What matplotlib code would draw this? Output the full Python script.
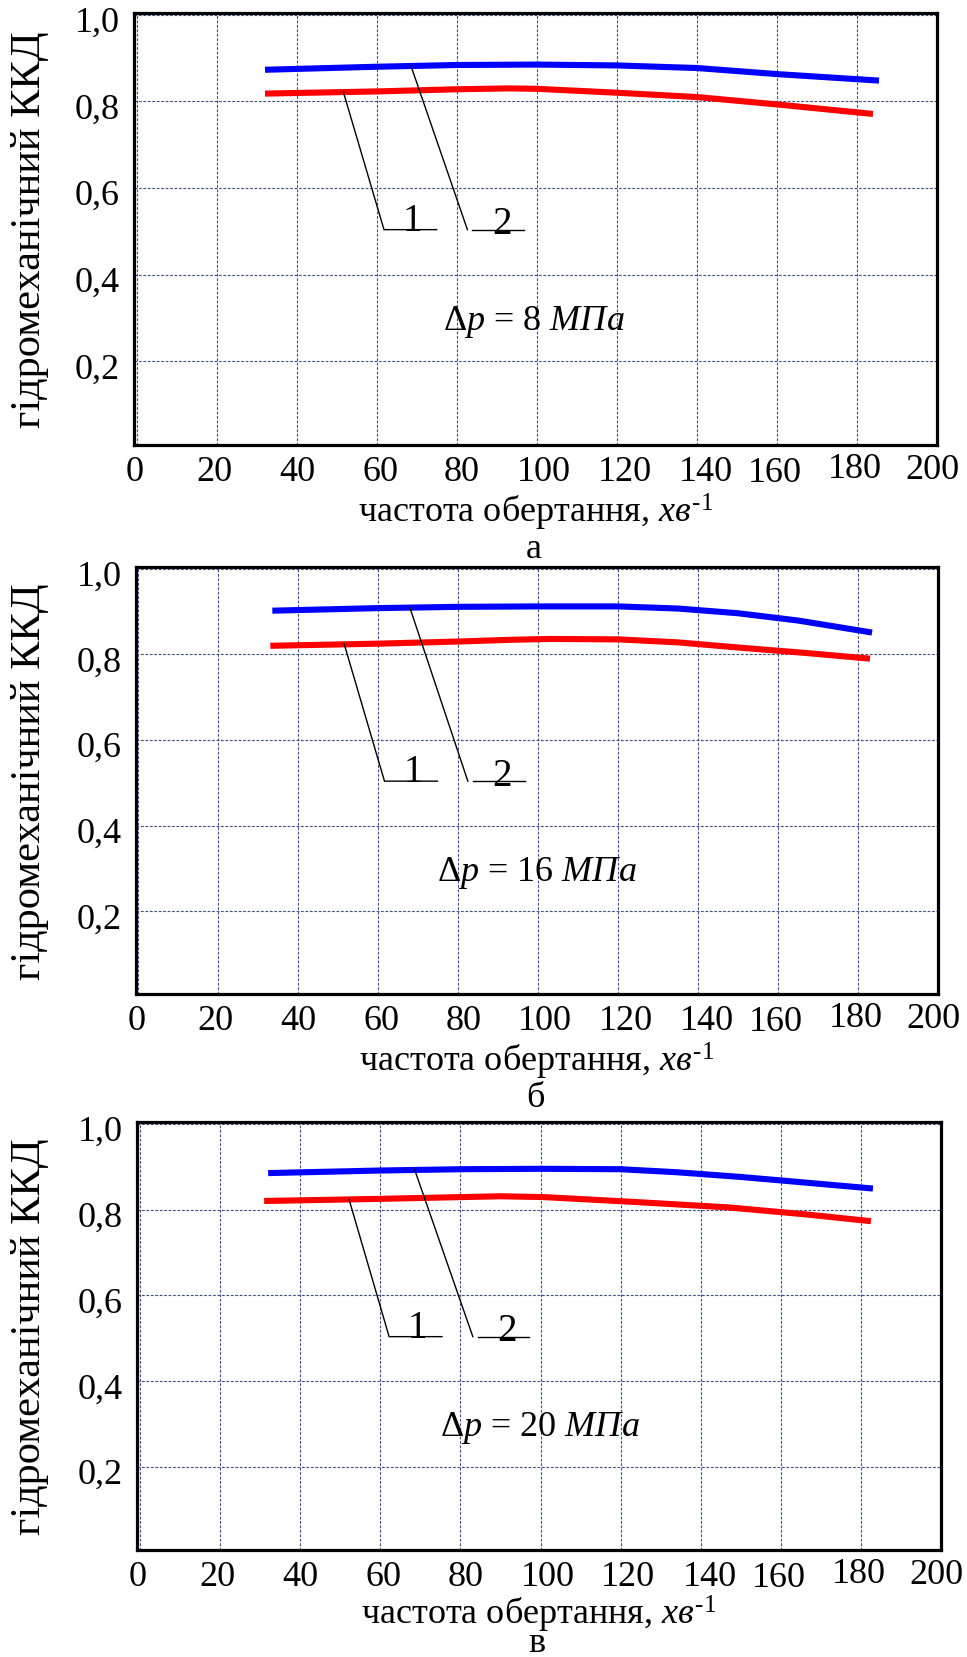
import matplotlib.pyplot as plt
import matplotlib.transforms as mtransforms
import numpy as np

plt.rcParams['font.family'] = ['Liberation Serif', 'DejaVu Serif']
plt.rcParams['mathtext.fontset'] = 'custom'
plt.rcParams['mathtext.rm'] = 'Liberation Serif'
plt.rcParams['mathtext.it'] = 'Liberation Serif:italic'

# а) Δp = 8 МПа: крива 2 (синя) і крива 1 (червона)
n_a_2 = [32, 60, 80, 100, 120, 140, 160, 185.5]
kkd_a_2 = [0.873, 0.880, 0.884, 0.885, 0.883, 0.877, 0.863, 0.848]
n_a_1 = [32, 60, 80, 93, 100, 120, 140, 160, 184]
kkd_a_1 = [0.818, 0.823, 0.828, 0.830, 0.829, 0.820, 0.810, 0.793, 0.771]

# б) Δp = 16 МПа
n_b_2 = [33.5, 60, 80, 100, 120, 135, 150, 165, 183.5]
kkd_b_2 = [0.902, 0.908, 0.911, 0.912, 0.912, 0.907, 0.896, 0.879, 0.851]
n_b_1 = [33, 60, 80, 93, 103, 120, 135, 150, 166, 183]
kkd_b_1 = [0.820, 0.825, 0.830, 0.834, 0.836, 0.835, 0.828, 0.816, 0.804, 0.790]

# в) Δp = 20 МПа
n_c_2 = [32, 60, 80, 100, 120, 134, 150, 166, 183]
kkd_c_2 = [0.885, 0.891, 0.894, 0.895, 0.894, 0.887, 0.876, 0.863, 0.849]
n_c_1 = [31, 60, 80, 90, 101, 123, 147, 166, 182.5]
kkd_c_1 = [0.820, 0.825, 0.829, 0.831, 0.829, 0.818, 0.805, 0.789, 0.773]

pressures = [8, 16, 20]
letters = ['а', 'б', 'в']

x_ticks = [0, 20, 40, 60, 80, 100, 120, 140, 160, 180, 200]
x_tick_labels = [str(v) for v in x_ticks]
y_ticks = [0.2, 0.4, 0.6, 0.8, 1.0]
y_tick_labels = ['0,2', '0,4', '0,6', '0,8', '1,0']

# розмітка в пікселях: (ліво, верх, право, низ) та ліва межа осі x
W, H = 967, 1658
rects = [(134, 14, 937, 446), (136, 568, 938, 995), (137, 1123, 941, 1551)]
x_left = [-0.75, -0.6, -0.75]
# зсуви підписів поділок осі x (dx, відстань до базової лінії)
xlab_dx = [-2, -2.5, 0, 3, 5, 7, 7.5, 9, -2, -2, -5]
xlab_dy = [35, 35, 35, 35, 35, 35, 35, 35, 36, 32, 33]
# базові лінії підпису осі x та літери під графіком
xlabel_dy = [77, 77, 74]
letter_dy = [112, 112, 101]
# виноски: x на кривій, x злому, кінець полички
leaders = [
    [(51.6, 61.75, 74.9), (68.5, 82.6, 96.8)],
    [(51.5, 61.55, 74.8), (67.9, 82.4, 96.7)],
    [(52.2, 62.2, 75.4), (68.6, 83.1, 97.1)],
]
shelf_y = 0.504
text_x = [99.3, 99.6, 99.8]
text_y = 0.274

series = [
    (n_a_1, kkd_a_1, n_a_2, kkd_a_2),
    (n_b_1, kkd_b_1, n_b_2, kkd_b_2),
    (n_c_1, kkd_c_1, n_c_2, kkd_c_2),
]

fig = plt.figure(figsize=(W / 100, H / 100), dpi=100)

for i, (x1, y1, x2, y2) in enumerate(series):
    l, t, r, b = rects[i]
    ax = fig.add_axes([l / W, 1 - b / H, (r - l) / W, (b - t) / H])
    ax.set_xlim(x_left[i], 200)
    ax.set_ylim(0.007, 1.004)
    ax.set_xticks(x_ticks)
    ax.set_yticks(y_ticks)
    ax.tick_params(length=0, labelbottom=False, labelleft=False)
    ax.grid(True, color='#40507e', lw=0.8, ls=(0, (2.5, 1.5)))
    ax.set_axisbelow(True)
    for s in ax.spines.values():
        s.set_linewidth(2.3)
        s.set_color('black')

    ax.plot(x2, y2, color='#0000ff', lw=4.4, solid_capstyle='butt', zorder=3)
    ax.plot(x1, y1, color='#ff0000', lw=4.4, solid_capstyle='butt', zorder=3)

    # виноски 1 і 2
    (a0, a1, a2), (b0, b1, b2) = leaders[i]
    ya = np.interp(a0, x1, y1)
    yb = np.interp(b0, x2, y2)
    ax.plot([a0, a1, a2], [ya, shelf_y, shelf_y], color='black', lw=1.0, zorder=4)
    ax.plot([b0, b1], [yb, shelf_y], color='black', lw=1.0, zorder=4)
    ax.plot([b1 + 1.2, b2], [shelf_y, shelf_y], color='black', lw=1.0, zorder=4)
    ax.text((a1 + a2) / 2 + 0.5, shelf_y, '1', fontsize=28, ha='center', va='baseline')
    ax.text((b1 + b2) / 2 + 1.5, shelf_y - 0.008, '2', fontsize=28, ha='center', va='baseline')

    ax.text(text_x[i], text_y, r'$\Delta p$ = %d $\mathit{МПа}$' % pressures[i],
            fontsize=26, ha='center', va='baseline')

    # підписи поділок
    for k, v in enumerate(x_ticks):
        tr = mtransforms.offset_copy(ax.get_xaxis_transform(), fig=fig,
                                     x=xlab_dx[k], y=-xlab_dy[k], units='dots')
        ax.text(v, 0, x_tick_labels[k], transform=tr, fontsize=26,
                ha='center', va='baseline')
    for v, lab in zip(y_ticks, y_tick_labels):
        tr = mtransforms.offset_copy(ax.get_yaxis_transform(), fig=fig,
                                     x=-14, y=-16, units='dots')
        ax.text(0, v, lab, transform=tr, fontsize=26, ha='right', va='baseline')

    cx = (l + r) / 2 / W
    fig.text(30 / W, 1 - (t + b) / 2 / H, 'гідромеханічний ККД', fontsize=30.5,
             rotation=90, ha='center', va='center')
    fig.text(cx, 1 - (b + xlabel_dy[i]) / H,
             r'частота обертання, $\mathit{хв}^{\text{-1}}$',
             fontsize=26, ha='center', va='baseline')
    fig.text(cx - 2 / W, 1 - (b + letter_dy[i]) / H, letters[i], fontsize=26,
             ha='center', va='baseline')

fig.savefig('out.png', dpi=100)
